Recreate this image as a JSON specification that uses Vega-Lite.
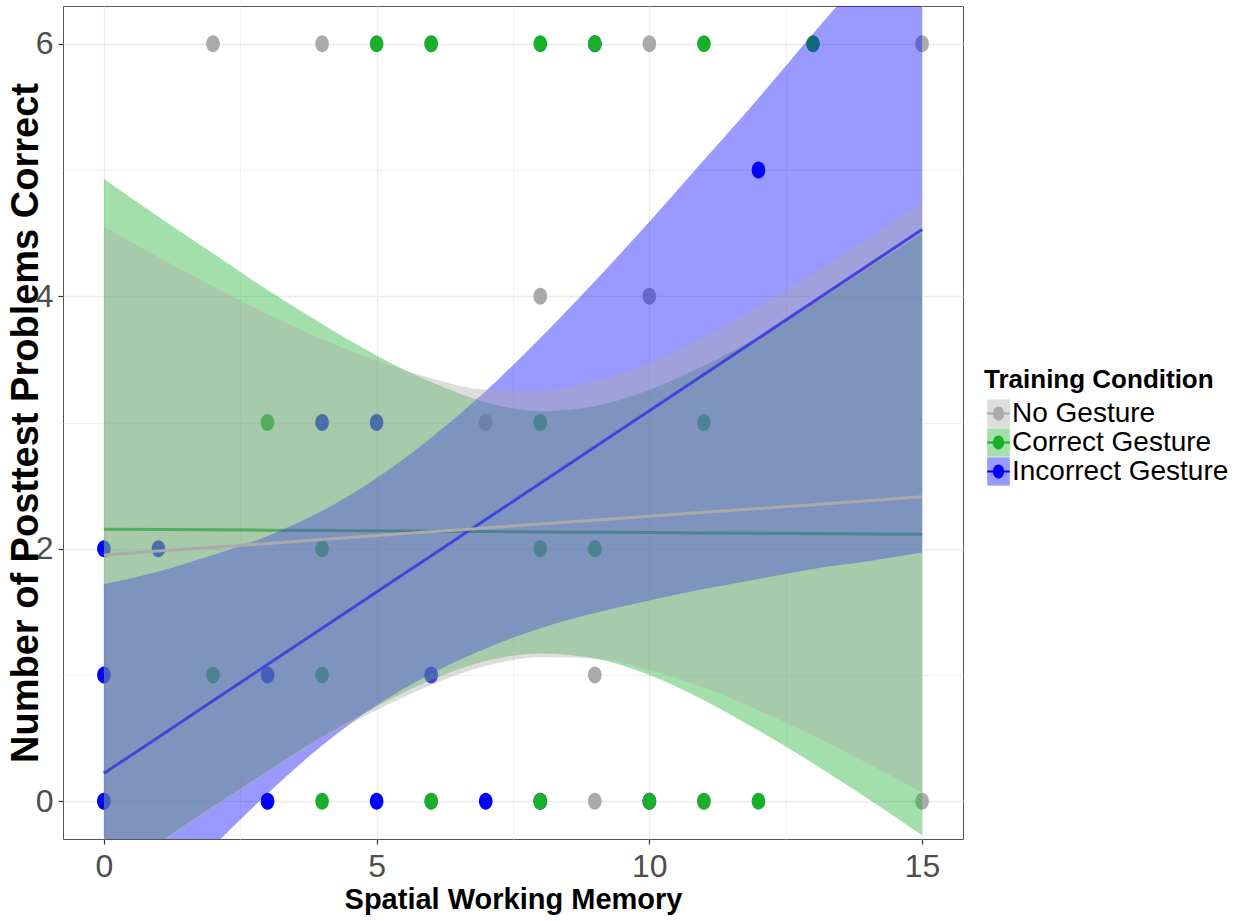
{
  "$schema": "https://vega.github.io/schema/vega-lite/v6.json",
  "width": 900,
  "height": 833,
  "autosize": {"type": "none"},
  "padding": {"left": 63, "top": 6, "right": 281, "bottom": 82},
  "background": "white",
  "config": {
    "font": "Liberation Sans",
    "view": {"stroke": "#555555", "strokeWidth": 1},
    "legend": {
      "orient": "none",
      "padding": 0,
      "titleFont": "Liberation Sans",
      "titleFontSize": 26,
      "titleFontWeight": "bold",
      "titleColor": "#000000",
      "titlePadding": 6,
      "titleLimit": 400,
      "labelFont": "Liberation Sans",
      "labelFontSize": 28,
      "labelColor": "#000000",
      "labelOffset": -1,
      "labelLimit": 400,
      "symbolSize": 800,
      "symbolStrokeWidth": 0,
      "rowPadding": 0
    }
  },
  "datasets": {
    "points": [
      {"condition": "No Gesture", "swm": 2, "score": 6},
      {"condition": "No Gesture", "swm": 4, "score": 6},
      {"condition": "No Gesture", "swm": 6, "score": 6},
      {"condition": "No Gesture", "swm": 10, "score": 6},
      {"condition": "No Gesture", "swm": 15, "score": 6},
      {"condition": "No Gesture", "swm": 8, "score": 4},
      {"condition": "No Gesture", "swm": 10, "score": 4},
      {"condition": "No Gesture", "swm": 7, "score": 3},
      {"condition": "No Gesture", "swm": 8, "score": 3},
      {"condition": "No Gesture", "swm": 9, "score": 2},
      {"condition": "No Gesture", "swm": 9, "score": 1},
      {"condition": "No Gesture", "swm": 0, "score": 0},
      {"condition": "No Gesture", "swm": 3, "score": 0},
      {"condition": "No Gesture", "swm": 6, "score": 0},
      {"condition": "No Gesture", "swm": 9, "score": 0},
      {"condition": "No Gesture", "swm": 11, "score": 0},
      {"condition": "No Gesture", "swm": 15, "score": 0},
      {"condition": "Incorrect Gesture", "swm": 9, "score": 6},
      {"condition": "Incorrect Gesture", "swm": 12, "score": 5},
      {"condition": "Incorrect Gesture", "swm": 4, "score": 3},
      {"condition": "Incorrect Gesture", "swm": 5, "score": 3},
      {"condition": "Incorrect Gesture", "swm": 0, "score": 2},
      {"condition": "Incorrect Gesture", "swm": 1, "score": 2},
      {"condition": "Incorrect Gesture", "swm": 0, "score": 1},
      {"condition": "Incorrect Gesture", "swm": 3, "score": 1},
      {"condition": "Incorrect Gesture", "swm": 6, "score": 1},
      {"condition": "Incorrect Gesture", "swm": 0, "score": 0},
      {"condition": "Incorrect Gesture", "swm": 3, "score": 0},
      {"condition": "Incorrect Gesture", "swm": 5, "score": 0},
      {"condition": "Incorrect Gesture", "swm": 7, "score": 0},
      {"condition": "Incorrect Gesture", "swm": 8, "score": 0},
      {"condition": "Incorrect Gesture", "swm": 10, "score": 0},
      {"condition": "Correct Gesture", "swm": 5, "score": 6},
      {"condition": "Correct Gesture", "swm": 6, "score": 6},
      {"condition": "Correct Gesture", "swm": 8, "score": 6},
      {"condition": "Correct Gesture", "swm": 9, "score": 6},
      {"condition": "Correct Gesture", "swm": 11, "score": 6},
      {"condition": "Correct Gesture", "swm": 13, "score": 6},
      {"condition": "Correct Gesture", "swm": 3, "score": 3},
      {"condition": "Correct Gesture", "swm": 8, "score": 3},
      {"condition": "Correct Gesture", "swm": 11, "score": 3},
      {"condition": "Correct Gesture", "swm": 4, "score": 2},
      {"condition": "Correct Gesture", "swm": 8, "score": 2},
      {"condition": "Correct Gesture", "swm": 9, "score": 2},
      {"condition": "Correct Gesture", "swm": 2, "score": 1},
      {"condition": "Correct Gesture", "swm": 4, "score": 1},
      {"condition": "Correct Gesture", "swm": 4, "score": 0},
      {"condition": "Correct Gesture", "swm": 6, "score": 0},
      {"condition": "Correct Gesture", "swm": 8, "score": 0},
      {"condition": "Correct Gesture", "swm": 10, "score": 0},
      {"condition": "Correct Gesture", "swm": 11, "score": 0},
      {"condition": "Correct Gesture", "swm": 12, "score": 0}
    ],
    "bands": [
      {"condition": "Correct Gesture", "swm": 0, "lo": -0.62, "hi": 4.93, "fit": 2.155},
      {"condition": "Correct Gesture", "swm": 1, "lo": -0.33, "hi": 4.63, "fit": 2.152},
      {"condition": "Correct Gesture", "swm": 2, "lo": -0.04, "hi": 4.34, "fit": 2.150},
      {"condition": "Correct Gesture", "swm": 3, "lo": 0.24, "hi": 4.05, "fit": 2.147},
      {"condition": "Correct Gesture", "swm": 4, "lo": 0.51, "hi": 3.78, "fit": 2.144},
      {"condition": "Correct Gesture", "swm": 5, "lo": 0.75, "hi": 3.53, "fit": 2.142},
      {"condition": "Correct Gesture", "swm": 6, "lo": 0.96, "hi": 3.32, "fit": 2.139},
      {"condition": "Correct Gesture", "swm": 7, "lo": 1.11, "hi": 3.16, "fit": 2.136},
      {"condition": "Correct Gesture", "swm": 8, "lo": 1.17, "hi": 3.09, "fit": 2.133},
      {"condition": "Correct Gesture", "swm": 9, "lo": 1.13, "hi": 3.13, "fit": 2.131},
      {"condition": "Correct Gesture", "swm": 10, "lo": 1.0, "hi": 3.26, "fit": 2.128},
      {"condition": "Correct Gesture", "swm": 11, "lo": 0.8, "hi": 3.45, "fit": 2.125},
      {"condition": "Correct Gesture", "swm": 12, "lo": 0.56, "hi": 3.68, "fit": 2.123},
      {"condition": "Correct Gesture", "swm": 13, "lo": 0.3, "hi": 3.94, "fit": 2.120},
      {"condition": "Correct Gesture", "swm": 14, "lo": 0.02, "hi": 4.22, "fit": 2.117},
      {"condition": "Correct Gesture", "swm": 15, "lo": -0.27, "hi": 4.5, "fit": 2.115},
      {"condition": "Incorrect Gesture", "swm": 0, "lo": -1.28, "hi": 1.72, "fit": 0.220},
      {"condition": "Incorrect Gesture", "swm": 1, "lo": -0.81, "hi": 1.82, "fit": 0.507},
      {"condition": "Incorrect Gesture", "swm": 2, "lo": -0.36, "hi": 1.95, "fit": 0.795},
      {"condition": "Incorrect Gesture", "swm": 3, "lo": 0.06, "hi": 2.1, "fit": 1.082},
      {"condition": "Incorrect Gesture", "swm": 4, "lo": 0.44, "hi": 2.3, "fit": 1.369},
      {"condition": "Incorrect Gesture", "swm": 5, "lo": 0.76, "hi": 2.56, "fit": 1.657},
      {"condition": "Incorrect Gesture", "swm": 6, "lo": 1.01, "hi": 2.88, "fit": 1.944},
      {"condition": "Incorrect Gesture", "swm": 7, "lo": 1.21, "hi": 3.25, "fit": 2.231},
      {"condition": "Incorrect Gesture", "swm": 8, "lo": 1.37, "hi": 3.67, "fit": 2.518},
      {"condition": "Incorrect Gesture", "swm": 9, "lo": 1.49, "hi": 4.12, "fit": 2.806},
      {"condition": "Incorrect Gesture", "swm": 10, "lo": 1.59, "hi": 4.59, "fit": 3.093},
      {"condition": "Incorrect Gesture", "swm": 11, "lo": 1.68, "hi": 5.08, "fit": 3.380},
      {"condition": "Incorrect Gesture", "swm": 12, "lo": 1.76, "hi": 5.57, "fit": 3.668},
      {"condition": "Incorrect Gesture", "swm": 13, "lo": 1.84, "hi": 6.08, "fit": 3.955},
      {"condition": "Incorrect Gesture", "swm": 14, "lo": 1.9, "hi": 6.58, "fit": 4.242},
      {"condition": "Incorrect Gesture", "swm": 15, "lo": 1.97, "hi": 7.09, "fit": 4.530},
      {"condition": "No Gesture", "swm": 0, "lo": -0.65, "hi": 4.55, "fit": 1.950},
      {"condition": "No Gesture", "swm": 1, "lo": -0.35, "hi": 4.31, "fit": 1.981},
      {"condition": "No Gesture", "swm": 2, "lo": -0.06, "hi": 4.08, "fit": 2.011},
      {"condition": "No Gesture", "swm": 3, "lo": 0.22, "hi": 3.86, "fit": 2.042},
      {"condition": "No Gesture", "swm": 4, "lo": 0.49, "hi": 3.66, "fit": 2.073},
      {"condition": "No Gesture", "swm": 5, "lo": 0.72, "hi": 3.49, "fit": 2.104},
      {"condition": "No Gesture", "swm": 6, "lo": 0.92, "hi": 3.35, "fit": 2.134},
      {"condition": "No Gesture", "swm": 7, "lo": 1.07, "hi": 3.26, "fit": 2.165},
      {"condition": "No Gesture", "swm": 8, "lo": 1.14, "hi": 3.25, "fit": 2.196},
      {"condition": "No Gesture", "swm": 9, "lo": 1.13, "hi": 3.33, "fit": 2.226},
      {"condition": "No Gesture", "swm": 10, "lo": 1.04, "hi": 3.47, "fit": 2.257},
      {"condition": "No Gesture", "swm": 11, "lo": 0.9, "hi": 3.68, "fit": 2.288},
      {"condition": "No Gesture", "swm": 12, "lo": 0.72, "hi": 3.92, "fit": 2.318},
      {"condition": "No Gesture", "swm": 13, "lo": 0.52, "hi": 4.18, "fit": 2.349},
      {"condition": "No Gesture", "swm": 14, "lo": 0.3, "hi": 4.46, "fit": 2.380},
      {"condition": "No Gesture", "swm": 15, "lo": 0.07, "hi": 4.75, "fit": 2.411}
    ]
  },
  "encoding": {
    "x": {
      "field": "swm",
      "type": "quantitative",
      "scale": {"domain": [-0.75, 15.75], "nice": false, "zero": false},
      "axis": {
        "title": "Spatial Working Memory",
        "values": [0, 2.5, 5, 7.5, 10, 12.5, 15],
        "labelExpr": "datum.value % 5 === 0 ? '' + datum.value : ''",
        "labelOverlap": false,
        "labelFlush": false,
        "labelFont": "Liberation Sans",
        "labelFontSize": 32,
        "labelColor": "#4d4d4d",
        "labelPadding": 7,
        "tickSize": 5,
        "tickColor": "#333333",
        "tickWidth": 1.2,
        "tickOpacity": {"condition": {"test": "datum.value % 5 === 0", "value": 1}, "value": 0},
        "grid": true,
        "gridColor": "#ebebeb",
        "gridWidth": {"condition": {"test": "datum.value % 5 === 0", "value": 1.3}, "value": 0.7},
        "domain": false,
        "titleFont": "Liberation Sans",
        "titleFontWeight": "bold",
        "titleFontSize": 29,
        "titleColor": "#000000",
        "titlePadding": 3
      }
    }
  },
  "layer": [
    {
      "data": {"name": "points"},
      "mark": {
        "type": "point",
        "filled": true,
        "opacity": 1,
        "size": 289,
        "shape": "M-0.8,0A0.8,1 0 1,1 0.8,0A0.8,1 0 1,1 -0.8,0Z",
        "clip": true
      },
      "encoding": {
        "y": {
          "field": "score",
          "type": "quantitative",
          "scale": {"domain": [-0.3, 6.3], "nice": false, "zero": false},
          "axis": {
            "title": "Number of Posttest Problems Correct",
            "values": [0, 1, 2, 3, 4, 5, 6],
            "labelExpr": "datum.value % 2 === 0 ? '' + datum.value : ''",
            "labelOverlap": false,
            "labelFlush": false,
            "labelFont": "Liberation Sans",
            "labelFontSize": 32,
            "labelColor": "#4d4d4d",
            "labelPadding": 5,
            "tickSize": 5,
            "tickColor": "#333333",
            "tickWidth": 1.2,
            "tickOpacity": {"condition": {"test": "datum.value % 2 === 0", "value": 1}, "value": 0},
            "grid": true,
            "gridColor": "#ebebeb",
            "gridWidth": {"condition": {"test": "datum.value % 2 === 0", "value": 1.3}, "value": 0.7},
            "domain": false,
            "titleFont": "Liberation Sans",
            "titleFontWeight": "bold",
            "titleFontSize": 38,
            "titleColor": "#000000",
            "titlePadding": -10
          }
        },
        "color": {
          "field": "condition",
          "type": "nominal",
          "scale": {
            "domain": ["No Gesture", "Correct Gesture", "Incorrect Gesture"],
            "range": ["#aaaaaa", "#1aaf2b", "#0000ff"]
          },
          "legend": {
            "title": "Training Condition",
            "legendX": 921,
            "legendY": 361,
            "symbolType": "M-0.8,-0.07H0.8V0.07H-0.8Z M-0.4,0A0.4,0.5 0 1,1 0.4,0A0.4,0.5 0 1,1 -0.4,0Z",
            "symbolOpacity": 1,
            "labelExpr": "''",
            "titleOpacity": 0,
            "zindex": 2
          }
        }
      }
    },
    {
      "data": {"name": "bands"},
      "transform": [{"filter": "datum.condition === 'Correct Gesture'"}],
      "mark": {"type": "area", "clip": true, "interpolate": "monotone", "fillOpacity": 0.4},
      "encoding": {
        "y": {
          "field": "lo",
          "type": "quantitative",
          "scale": {"domain": [-0.3, 6.3], "nice": false, "zero": false},
          "axis": {
            "title": "Number of Posttest Problems Correct",
            "values": [0, 1, 2, 3, 4, 5, 6],
            "labelExpr": "datum.value % 2 === 0 ? '' + datum.value : ''",
            "labelOverlap": false,
            "labelFlush": false,
            "labelFont": "Liberation Sans",
            "labelFontSize": 32,
            "labelColor": "#4d4d4d",
            "labelPadding": 5,
            "tickSize": 5,
            "tickColor": "#333333",
            "tickWidth": 1.2,
            "tickOpacity": {"condition": {"test": "datum.value % 2 === 0", "value": 1}, "value": 0},
            "grid": true,
            "gridColor": "#ebebeb",
            "gridWidth": {"condition": {"test": "datum.value % 2 === 0", "value": 1.3}, "value": 0.7},
            "domain": false,
            "titleFont": "Liberation Sans",
            "titleFontWeight": "bold",
            "titleFontSize": 38,
            "titleColor": "#000000",
            "titlePadding": -10
          }
        },
        "y2": {"field": "hi"},
        "fill": {
          "field": "condition",
          "type": "nominal",
          "scale": {
            "domain": ["Correct Gesture", "Incorrect Gesture", "No Gesture"],
            "range": ["#1aaf2b", "#0000ff", "#aaaaaa"]
          },
          "legend": {
            "title": "Training Condition",
            "values": ["No Gesture", "Correct Gesture", "Incorrect Gesture"],
            "legendX": 921,
            "legendY": 361,
            "symbolType": "M-0.8,-1H0.8V1H-0.8Z",
            "symbolOpacity": 0.4,
            "zindex": 1
          }
        }
      }
    },
    {
      "data": {"name": "bands"},
      "transform": [{"filter": "datum.condition === 'Correct Gesture'"}],
      "mark": {"type": "line", "clip": true, "strokeWidth": 3, "color": "#1aaf2b"},
      "encoding": {
        "y": {
          "field": "fit",
          "type": "quantitative",
          "scale": {"domain": [-0.3, 6.3], "nice": false, "zero": false},
          "axis": {
            "title": "Number of Posttest Problems Correct",
            "values": [0, 1, 2, 3, 4, 5, 6],
            "labelExpr": "datum.value % 2 === 0 ? '' + datum.value : ''",
            "labelOverlap": false,
            "labelFlush": false,
            "labelFont": "Liberation Sans",
            "labelFontSize": 32,
            "labelColor": "#4d4d4d",
            "labelPadding": 5,
            "tickSize": 5,
            "tickColor": "#333333",
            "tickWidth": 1.2,
            "tickOpacity": {"condition": {"test": "datum.value % 2 === 0", "value": 1}, "value": 0},
            "grid": true,
            "gridColor": "#ebebeb",
            "gridWidth": {"condition": {"test": "datum.value % 2 === 0", "value": 1.3}, "value": 0.7},
            "domain": false,
            "titleFont": "Liberation Sans",
            "titleFontWeight": "bold",
            "titleFontSize": 38,
            "titleColor": "#000000",
            "titlePadding": -10
          }
        }
      }
    },
    {
      "data": {"name": "bands"},
      "transform": [{"filter": "datum.condition === 'Incorrect Gesture'"}],
      "mark": {"type": "area", "clip": true, "interpolate": "monotone", "fillOpacity": 0.4},
      "encoding": {
        "y": {
          "field": "lo",
          "type": "quantitative",
          "scale": {"domain": [-0.3, 6.3], "nice": false, "zero": false},
          "axis": {
            "title": "Number of Posttest Problems Correct",
            "values": [0, 1, 2, 3, 4, 5, 6],
            "labelExpr": "datum.value % 2 === 0 ? '' + datum.value : ''",
            "labelOverlap": false,
            "labelFlush": false,
            "labelFont": "Liberation Sans",
            "labelFontSize": 32,
            "labelColor": "#4d4d4d",
            "labelPadding": 5,
            "tickSize": 5,
            "tickColor": "#333333",
            "tickWidth": 1.2,
            "tickOpacity": {"condition": {"test": "datum.value % 2 === 0", "value": 1}, "value": 0},
            "grid": true,
            "gridColor": "#ebebeb",
            "gridWidth": {"condition": {"test": "datum.value % 2 === 0", "value": 1.3}, "value": 0.7},
            "domain": false,
            "titleFont": "Liberation Sans",
            "titleFontWeight": "bold",
            "titleFontSize": 38,
            "titleColor": "#000000",
            "titlePadding": -10
          }
        },
        "y2": {"field": "hi"},
        "fill": {
          "field": "condition",
          "type": "nominal",
          "scale": {
            "domain": ["Correct Gesture", "Incorrect Gesture", "No Gesture"],
            "range": ["#1aaf2b", "#0000ff", "#aaaaaa"]
          },
          "legend": {
            "title": "Training Condition",
            "values": ["No Gesture", "Correct Gesture", "Incorrect Gesture"],
            "legendX": 921,
            "legendY": 361,
            "symbolType": "M-0.8,-1H0.8V1H-0.8Z",
            "symbolOpacity": 0.4,
            "zindex": 1
          }
        }
      }
    },
    {
      "data": {"name": "bands"},
      "transform": [{"filter": "datum.condition === 'Incorrect Gesture'"}],
      "mark": {"type": "line", "clip": true, "strokeWidth": 3, "color": "#0000ff"},
      "encoding": {
        "y": {
          "field": "fit",
          "type": "quantitative",
          "scale": {"domain": [-0.3, 6.3], "nice": false, "zero": false},
          "axis": {
            "title": "Number of Posttest Problems Correct",
            "values": [0, 1, 2, 3, 4, 5, 6],
            "labelExpr": "datum.value % 2 === 0 ? '' + datum.value : ''",
            "labelOverlap": false,
            "labelFlush": false,
            "labelFont": "Liberation Sans",
            "labelFontSize": 32,
            "labelColor": "#4d4d4d",
            "labelPadding": 5,
            "tickSize": 5,
            "tickColor": "#333333",
            "tickWidth": 1.2,
            "tickOpacity": {"condition": {"test": "datum.value % 2 === 0", "value": 1}, "value": 0},
            "grid": true,
            "gridColor": "#ebebeb",
            "gridWidth": {"condition": {"test": "datum.value % 2 === 0", "value": 1.3}, "value": 0.7},
            "domain": false,
            "titleFont": "Liberation Sans",
            "titleFontWeight": "bold",
            "titleFontSize": 38,
            "titleColor": "#000000",
            "titlePadding": -10
          }
        }
      }
    },
    {
      "data": {"name": "bands"},
      "transform": [{"filter": "datum.condition === 'No Gesture'"}],
      "mark": {"type": "area", "clip": true, "interpolate": "monotone", "fillOpacity": 0.4},
      "encoding": {
        "y": {
          "field": "lo",
          "type": "quantitative",
          "scale": {"domain": [-0.3, 6.3], "nice": false, "zero": false},
          "axis": {
            "title": "Number of Posttest Problems Correct",
            "values": [0, 1, 2, 3, 4, 5, 6],
            "labelExpr": "datum.value % 2 === 0 ? '' + datum.value : ''",
            "labelOverlap": false,
            "labelFlush": false,
            "labelFont": "Liberation Sans",
            "labelFontSize": 32,
            "labelColor": "#4d4d4d",
            "labelPadding": 5,
            "tickSize": 5,
            "tickColor": "#333333",
            "tickWidth": 1.2,
            "tickOpacity": {"condition": {"test": "datum.value % 2 === 0", "value": 1}, "value": 0},
            "grid": true,
            "gridColor": "#ebebeb",
            "gridWidth": {"condition": {"test": "datum.value % 2 === 0", "value": 1.3}, "value": 0.7},
            "domain": false,
            "titleFont": "Liberation Sans",
            "titleFontWeight": "bold",
            "titleFontSize": 38,
            "titleColor": "#000000",
            "titlePadding": -10
          }
        },
        "y2": {"field": "hi"},
        "fill": {
          "field": "condition",
          "type": "nominal",
          "scale": {
            "domain": ["Correct Gesture", "Incorrect Gesture", "No Gesture"],
            "range": ["#1aaf2b", "#0000ff", "#aaaaaa"]
          },
          "legend": {
            "title": "Training Condition",
            "values": ["No Gesture", "Correct Gesture", "Incorrect Gesture"],
            "legendX": 921,
            "legendY": 361,
            "symbolType": "M-0.8,-1H0.8V1H-0.8Z",
            "symbolOpacity": 0.4,
            "zindex": 1
          }
        }
      }
    },
    {
      "data": {"name": "bands"},
      "transform": [{"filter": "datum.condition === 'No Gesture'"}],
      "mark": {"type": "line", "clip": true, "strokeWidth": 3, "color": "#aaaaaa"},
      "encoding": {
        "y": {
          "field": "fit",
          "type": "quantitative",
          "scale": {"domain": [-0.3, 6.3], "nice": false, "zero": false},
          "axis": {
            "title": "Number of Posttest Problems Correct",
            "values": [0, 1, 2, 3, 4, 5, 6],
            "labelExpr": "datum.value % 2 === 0 ? '' + datum.value : ''",
            "labelOverlap": false,
            "labelFlush": false,
            "labelFont": "Liberation Sans",
            "labelFontSize": 32,
            "labelColor": "#4d4d4d",
            "labelPadding": 5,
            "tickSize": 5,
            "tickColor": "#333333",
            "tickWidth": 1.2,
            "tickOpacity": {"condition": {"test": "datum.value % 2 === 0", "value": 1}, "value": 0},
            "grid": true,
            "gridColor": "#ebebeb",
            "gridWidth": {"condition": {"test": "datum.value % 2 === 0", "value": 1.3}, "value": 0.7},
            "domain": false,
            "titleFont": "Liberation Sans",
            "titleFontWeight": "bold",
            "titleFontSize": 38,
            "titleColor": "#000000",
            "titlePadding": -10
          }
        }
      }
    }
  ]
}
